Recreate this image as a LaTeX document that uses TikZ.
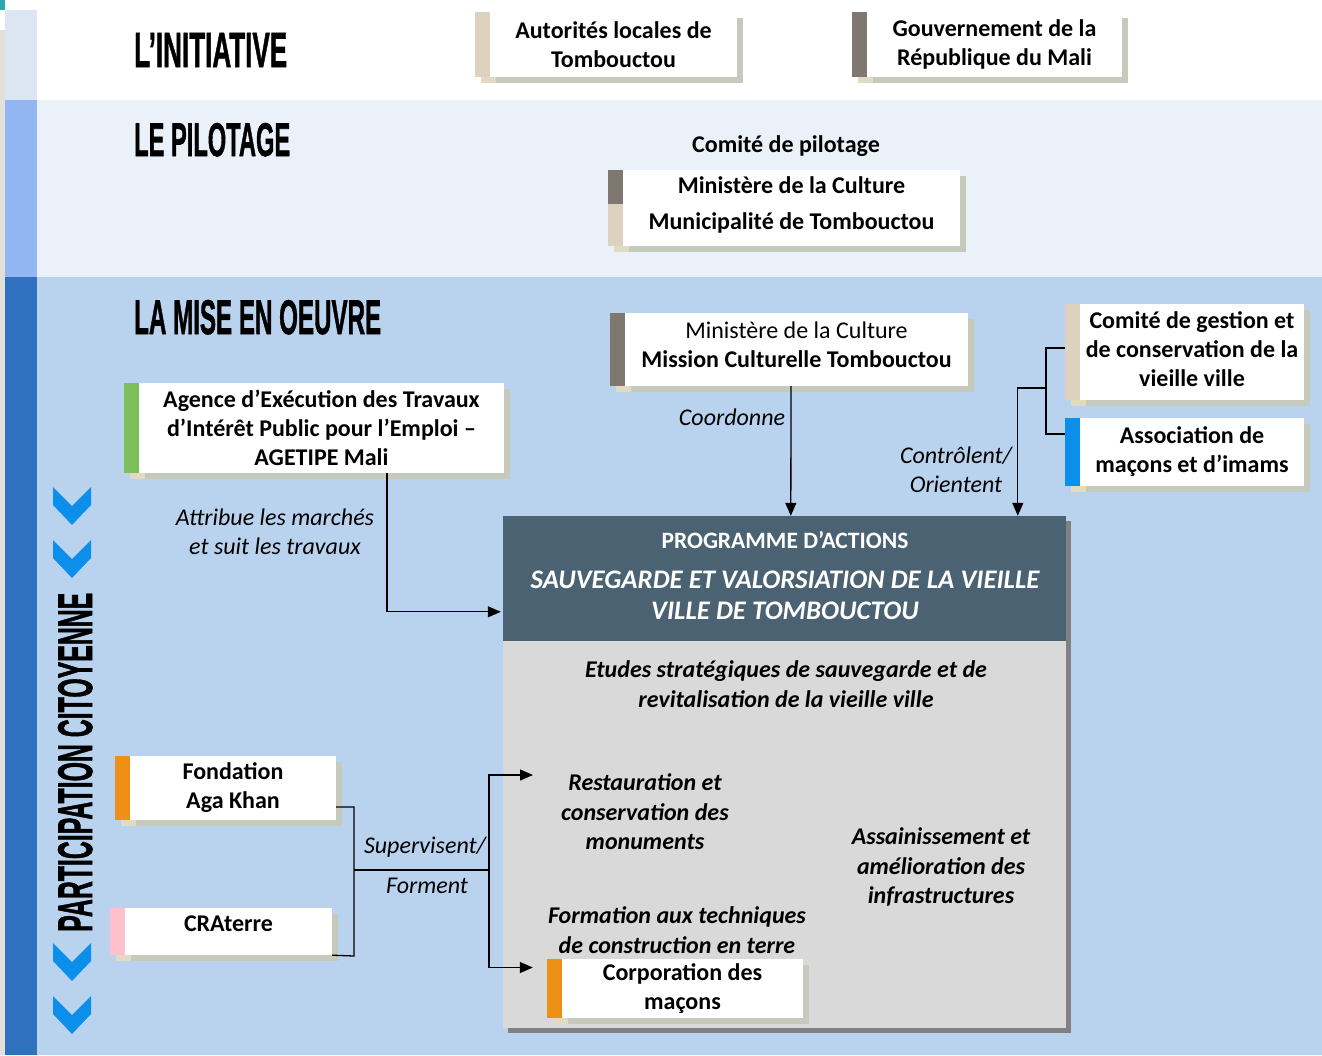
\documentclass[tikz,border=0pt]{standalone}
\usepackage{fontspec}
\usepackage{graphicx}
\setmainfont{Carlito}
\newfontfamily\titlefont[UprightFont={* Bold},FakeBold=1.5]{Liberation Sans}
\usetikzlibrary{arrows.meta,fit}
\definecolor{stripA}{HTML}{DCE6F2}
\definecolor{stripB}{HTML}{93B6F3}
\definecolor{stripC}{HTML}{2F70BF}
\definecolor{mainB}{HTML}{EAF1F9}
\definecolor{mainC}{HTML}{B9D3EE}
\definecolor{edgegrey}{HTML}{E3E0D9}
\definecolor{tealc}{HTML}{2EA8B0}
\definecolor{barbeige}{HTML}{DDD1C0}
\definecolor{bardark}{HTML}{7F7870}
\definecolor{barblue}{HTML}{0B8FEA}
\definecolor{bargreen}{HTML}{7DBF5B}
\definecolor{barorange}{HTML}{EE9016}
\definecolor{barpink}{HTML}{FFC0CB}
\definecolor{shadowG}{HTML}{C6CABD}
\definecolor{shadowB}{HTML}{E2DBC4}
\definecolor{proghead}{HTML}{4A6272}
\definecolor{progbody}{HTML}{D9D9D9}
\definecolor{progshadow}{HTML}{808080}
\definecolor{chevc}{HTML}{0B8FEA}
\tikzset{
  wbox/.style={fill=white, inner sep=0pt, align=center, font=\fontsize{24}{29}\selectfont\bfseries},
  titletxt/.style={inner sep=0pt, font=\titlefont},
  lbl/.style={inner sep=0pt, align=center, font=\fontsize{24}{29}\selectfont\itshape},
  itembox/.style={inner sep=0pt, align=center, font=\fontsize{24}{29.5}\selectfont\bfseries\itshape},
  headtxt/.style={inner sep=0pt, align=center, text=white, font=\fontsize{23.5}{31}\selectfont\bfseries},
  conn/.style={line width=1.3pt, black},
  arr/.style={conn, -{Triangle[length=13pt,width=11pt]}},
  chevron/.style={fill=chevc}
}
% [text shift]{name}{x1}{y1}{x2}{y2}{bar colour}{text}
\newcommand\obox[8][0]{%
  \fill[shadowG] (#3+6,#4+6) rectangle (#5+6,#6+6);
  \fill[shadowB] (#3+6,#4+6) rectangle (#3+21,#6+6);
  \node[wbox, minimum width={#5-#3-15}, minimum height={#6-#4}] (#2) at ({(#3+15+#5)/2},{(#4+#6)/2}) {};
  \node[wbox, fill=none] (#2-txt) at ([yshift=-#1pt]#2.center) {#8};
  \fill[#7] (#3,#4) rectangle (#3+15,#6);}
\begin{document}
\begin{tikzpicture}[x=1pt,y=-1pt]
\useasboundingbox (0,0) rectangle (1322,1055);
\fill[white] (0,0) rectangle (1322,1055);
% bands
\fill[mainB] (37,100) rectangle (1322,277);
\fill[mainC] (37,277) rectangle (1322,1055);
\fill[stripA] (5,10) rectangle (37,100);
\fill[stripB] (5,100) rectangle (37,277);
\fill[stripC] (5,277) rectangle (37,1055);
\fill[edgegrey] (0,30) rectangle (5,1055);
\fill[tealc] (0,0) rectangle (5,10);
% titles
\node[titletxt, anchor=base west] (t1) at (134,67) {\resizebox{153pt}{34pt}{L’INITIATIVE}};
\node[titletxt, anchor=base west] (t2) at (134,156) {\resizebox{156pt}{33pt}{LE PILOTAGE}};
\node[titletxt, anchor=base west] (t3) at (134,334) {\resizebox{247pt}{34pt}{LA MISE EN OEUVRE}};
\node[titletxt, anchor=base west, rotate=90] (t4) at (92,932) {\resizebox{339pt}{34pt}{PARTICIPATION CITOYENNE}};
% chevrons
\foreach \cy in {487,540,943,996}
  \fill[chevron] (53,\cy) -- (72,\cy+19) -- (91,\cy) -- (91,\cy+18) -- (72,\cy+38) -- (53,\cy+18) -- cycle;
% boxes
\obox{aut}{475}{12}{737}{77}{barbeige}{Autorités locales de\\Tombouctou}
\obox{gov}{852}{12}{1122}{77}{bardark}{Gouvernement de la\\République du Mali}
\node[wbox, fill=none] (cp) at (786,146) {Comité de pilotage};
\obox[-3]{pil}{608}{170}{960}{246}{barbeige}{Ministère de la Culture\\[7pt]Municipalité de Tombouctou}
\fill[bardark] (608,170) rectangle (623,204);
\obox[-5]{mis}{610}{313}{968}{386}{bardark}{{\mdseries Ministère de la Culture}\\Mission Culturelle Tombouctou}
\obox[-3]{cg}{1065}{304}{1304}{400}{barbeige}{Comité de gestion et\\de conservation de la\\vieille ville}
\obox{asm}{1065}{418}{1304}{486}{barblue}{Association de\\maçons et d’imams}
\obox{ag}{124}{383}{504}{473}{bargreen}{Agence d’Exécution des Travaux\\d’Intérêt Public pour l’Emploi –\\AGETIPE Mali}
\obox{fak}{115}{756}{336}{820}{barorange}{Fondation\\Aga Khan}
\obox[-8]{cra}{110}{908}{332}{955}{barpink}{CRAterre}
% programme
\fill[progshadow] (508,521) rectangle (1071,1033);
\node[fit={(503,516) (1066,1028)}, inner sep=0pt, fill=progbody] (prog) {};
\fill[proghead] (503,516) rectangle (1066,641);
\node[headtxt] (h1) at (785,540) {PROGRAMME D’ACTIONS};
\node[headtxt, font=\fontsize{26.8}{31}\selectfont\bfseries\itshape] (h2) at (785,595) {SAUVEGARDE ET VALORSIATION DE LA VIEILLE\\VILLE DE TOMBOUCTOU};
\node[itembox] (etu) at (786,684) {Etudes stratégiques de sauvegarde et de\\revitalisation de la vieille ville};
\node[itembox] (rest) at (645,812) {Restauration et\\conservation des\\monuments};
\node[itembox] (ass) at (941,867) {Assainissement et\\amélioration des\\infrastructures};
\node[itembox] (form) at (677,930) {Formation aux techniques\\de construction en terre};
\obox{corp}{547}{959}{803}{1018}{barorange}{Corporation des\\maçons}
% connectors
\draw[arr] ([xshift=-5.5pt]mis.south) -- ([shift={(288,0)}]prog.north west);
\node[lbl] (l1) at (732,417) {Coordonne};
\draw[conn] ([shift={(-15,-4)}]cg.west) -- (1046,348) -- (1046,434) -- ([shift={(-15,-18)}]asm.west);
\coordinate (jr) at (1046,388);
\draw[arr] (jr) -| ([shift={(515,0)}]prog.north west);
\node[lbl] (l2) at (956,470) {Contrôlent/\\Orientent};
\draw[arr] ([xshift=65.5pt]ag.south) |- ([shift={(-2,96)}]prog.north west);
\node[lbl] (l3) at (275,532) {Attribue les marchés\\et suit les travaux};
\draw[conn] ([yshift=-19pt]fak.east) -| (354,956) -- (cra.south east);
\coordinate (jl) at (354,870);
\coordinate (jv) at (489,870);
\draw[conn] (jl) -- (jv);
\coordinate (ta) at (533,775);
\draw[arr] (jv) |- (ta);
\draw[arr] (jv) |- ([shift={(-29,-21)}]corp.west);
\node[lbl] (l4) at (425,847) {Supervisent/};
\node[lbl] (l5) at (427,886) {Forment};
\end{tikzpicture}
\end{document}
